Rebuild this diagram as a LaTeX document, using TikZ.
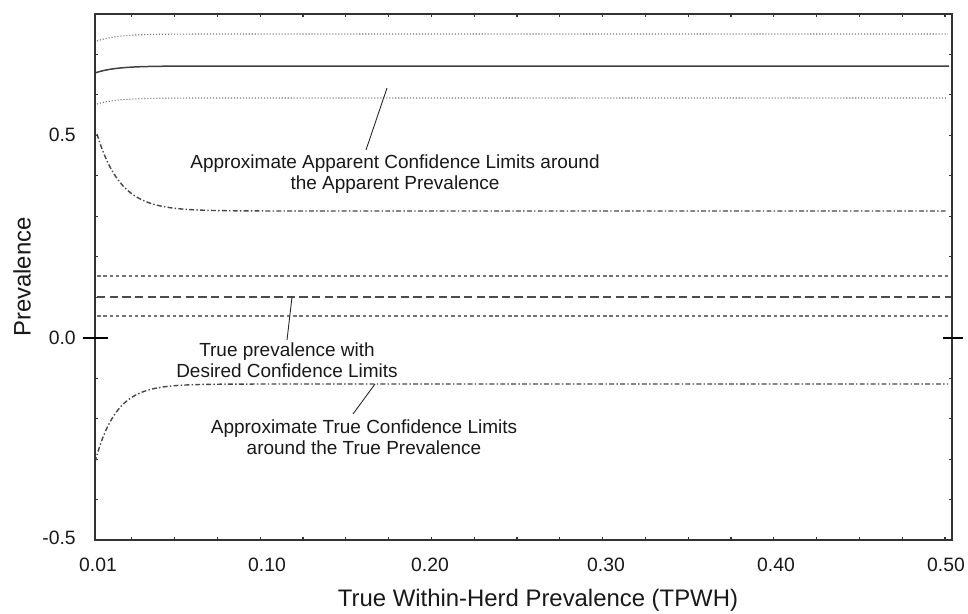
\documentclass[tikz,border=0pt]{standalone}
\usepackage{fontspec}
\setmainfont{Liberation Sans}
\begin{document}
\begin{tikzpicture}[x=0.02cm,y=-0.02cm,
  frame/.style={draw=black!80, line width=1.1pt},
  tickmark/.style={draw=black!80, line width=0.6pt},
  zerotick/.style={draw=black, line width=0.9pt},
  dotcurve/.style={draw=black!55, line width=0.65pt, dash pattern=on 0.6pt off 1.1pt},
  solidcurve/.style={draw=black!75, line width=0.85pt},
  dashdotcurve/.style={draw=black!72, line width=0.8pt, dash pattern=on 2.8pt off 1.3pt on 0.8pt off 1.3pt},
  shortdash/.style={draw=black!55, line width=0.65pt, dash pattern=on 2pt off 1.6pt},
  longdash/.style={draw=black!70, line width=0.95pt, dash pattern=on 4.8pt off 2.4pt},
  leader/.style={draw=black!85, line width=0.5pt},
  annot/.style={font=\fontsize{10.8}{12}\selectfont, align=center, inner sep=0pt, text=black!90},
  ticklabel/.style={font=\fontsize{11}{13}\selectfont, inner sep=0pt, text=black!90},
  axtitle/.style={font=\fontsize{13.6}{16}\selectfont, inner sep=0pt, text=black!90}]
\useasboundingbox (0,0) rectangle (968,613);
\fill[white] (0,0) rectangle (968,613);

% ticks
\foreach \k in {0,...,19}{
  \draw[tickmark] ({945-42.8*\k},540) -- ++(0,-3);
  \draw[tickmark] ({945-42.8*\k},14) -- ++(0,3);
}
\foreach \k in {1,...,12}{
  \draw[tickmark] (95,{540-40.46*\k}) -- ++(3,0);
  \draw[tickmark] (952,{540-40.46*\k}) -- ++(-3,0);
}

% curves
\draw[dotcurve] plot[domain=97:260, samples=60] (\x,{34+7*exp(-0.05*(\x-97))}) -- (948,34);
\draw[solidcurve] plot[domain=95:260, samples=60] (\x,{66+7*exp(-0.05*(\x-95))}) -- (949,66);
\draw[dotcurve] plot[domain=97:260, samples=60] (\x,{98+6*exp(-0.05*(\x-97))}) -- (948,98);
\draw[dashdotcurve] plot[domain=97:300, samples=80] (\x,{211-77*exp(-0.043*(\x-97))}) -- (948,211);
\draw[shortdash] (97,276) -- (952,276);
\draw[longdash] (97,297) -- (952,297);
\draw[shortdash] (97,316) -- (952,316);
\draw[dashdotcurve] plot[domain=95:300, samples=80] (\x,{384+78*exp(-0.048*(\x-95))}) -- (948,384);

% frame
\draw[frame] (95,14) rectangle (952,540);
\draw[zerotick] (83,338) -- (108,338);
\draw[zerotick] (943,338) -- (963,338);

% tick labels
\node[ticklabel, anchor=east] (y05) at (76,135) {0.5};
\node[ticklabel, anchor=east] (y00) at (76,338) {0.0};
\node[ticklabel, anchor=east] (ym05) at (76,538) {-0.5};
\node[ticklabel] (x001) at (98,565) {0.01};
\node[ticklabel] (x010) at (267,565) {0.10};
\node[ticklabel] (x020) at (430,565) {0.20};
\node[ticklabel] (x030) at (606,565) {0.30};
\node[ticklabel] (x040) at (776,565) {0.40};
\node[ticklabel] (x050) at (946,565) {0.50};

% titles
\node[axtitle, rotate=90] (ytitle) at (22,277) {Prevalence};
\node[axtitle] (xtitle) at (538,600) {True Within-Herd Prevalence (TPWH)};

% annotations
\node[annot] (apparent) at (395,174) {Approximate Apparent Confidence Limits around\\the Apparent Prevalence};
\node[annot] (truep) at (287,360) {True prevalence with\\Desired Confidence Limits};
\node[annot] (truecl) at (364,437) {Approximate True Confidence Limits\\around the True Prevalence};

\coordinate (a1) at (387,88);
\coordinate (a2) at (366,150);
\coordinate (t1) at (292,297);
\coordinate (t2) at (287,340);
\coordinate (c1) at (375,384);
\coordinate (c2) at (353,414);
\draw[leader] (a1) -- (a2);
\draw[leader] (t1) -- (t2);
\draw[leader] (c1) -- (c2);
\end{tikzpicture}
\end{document}
